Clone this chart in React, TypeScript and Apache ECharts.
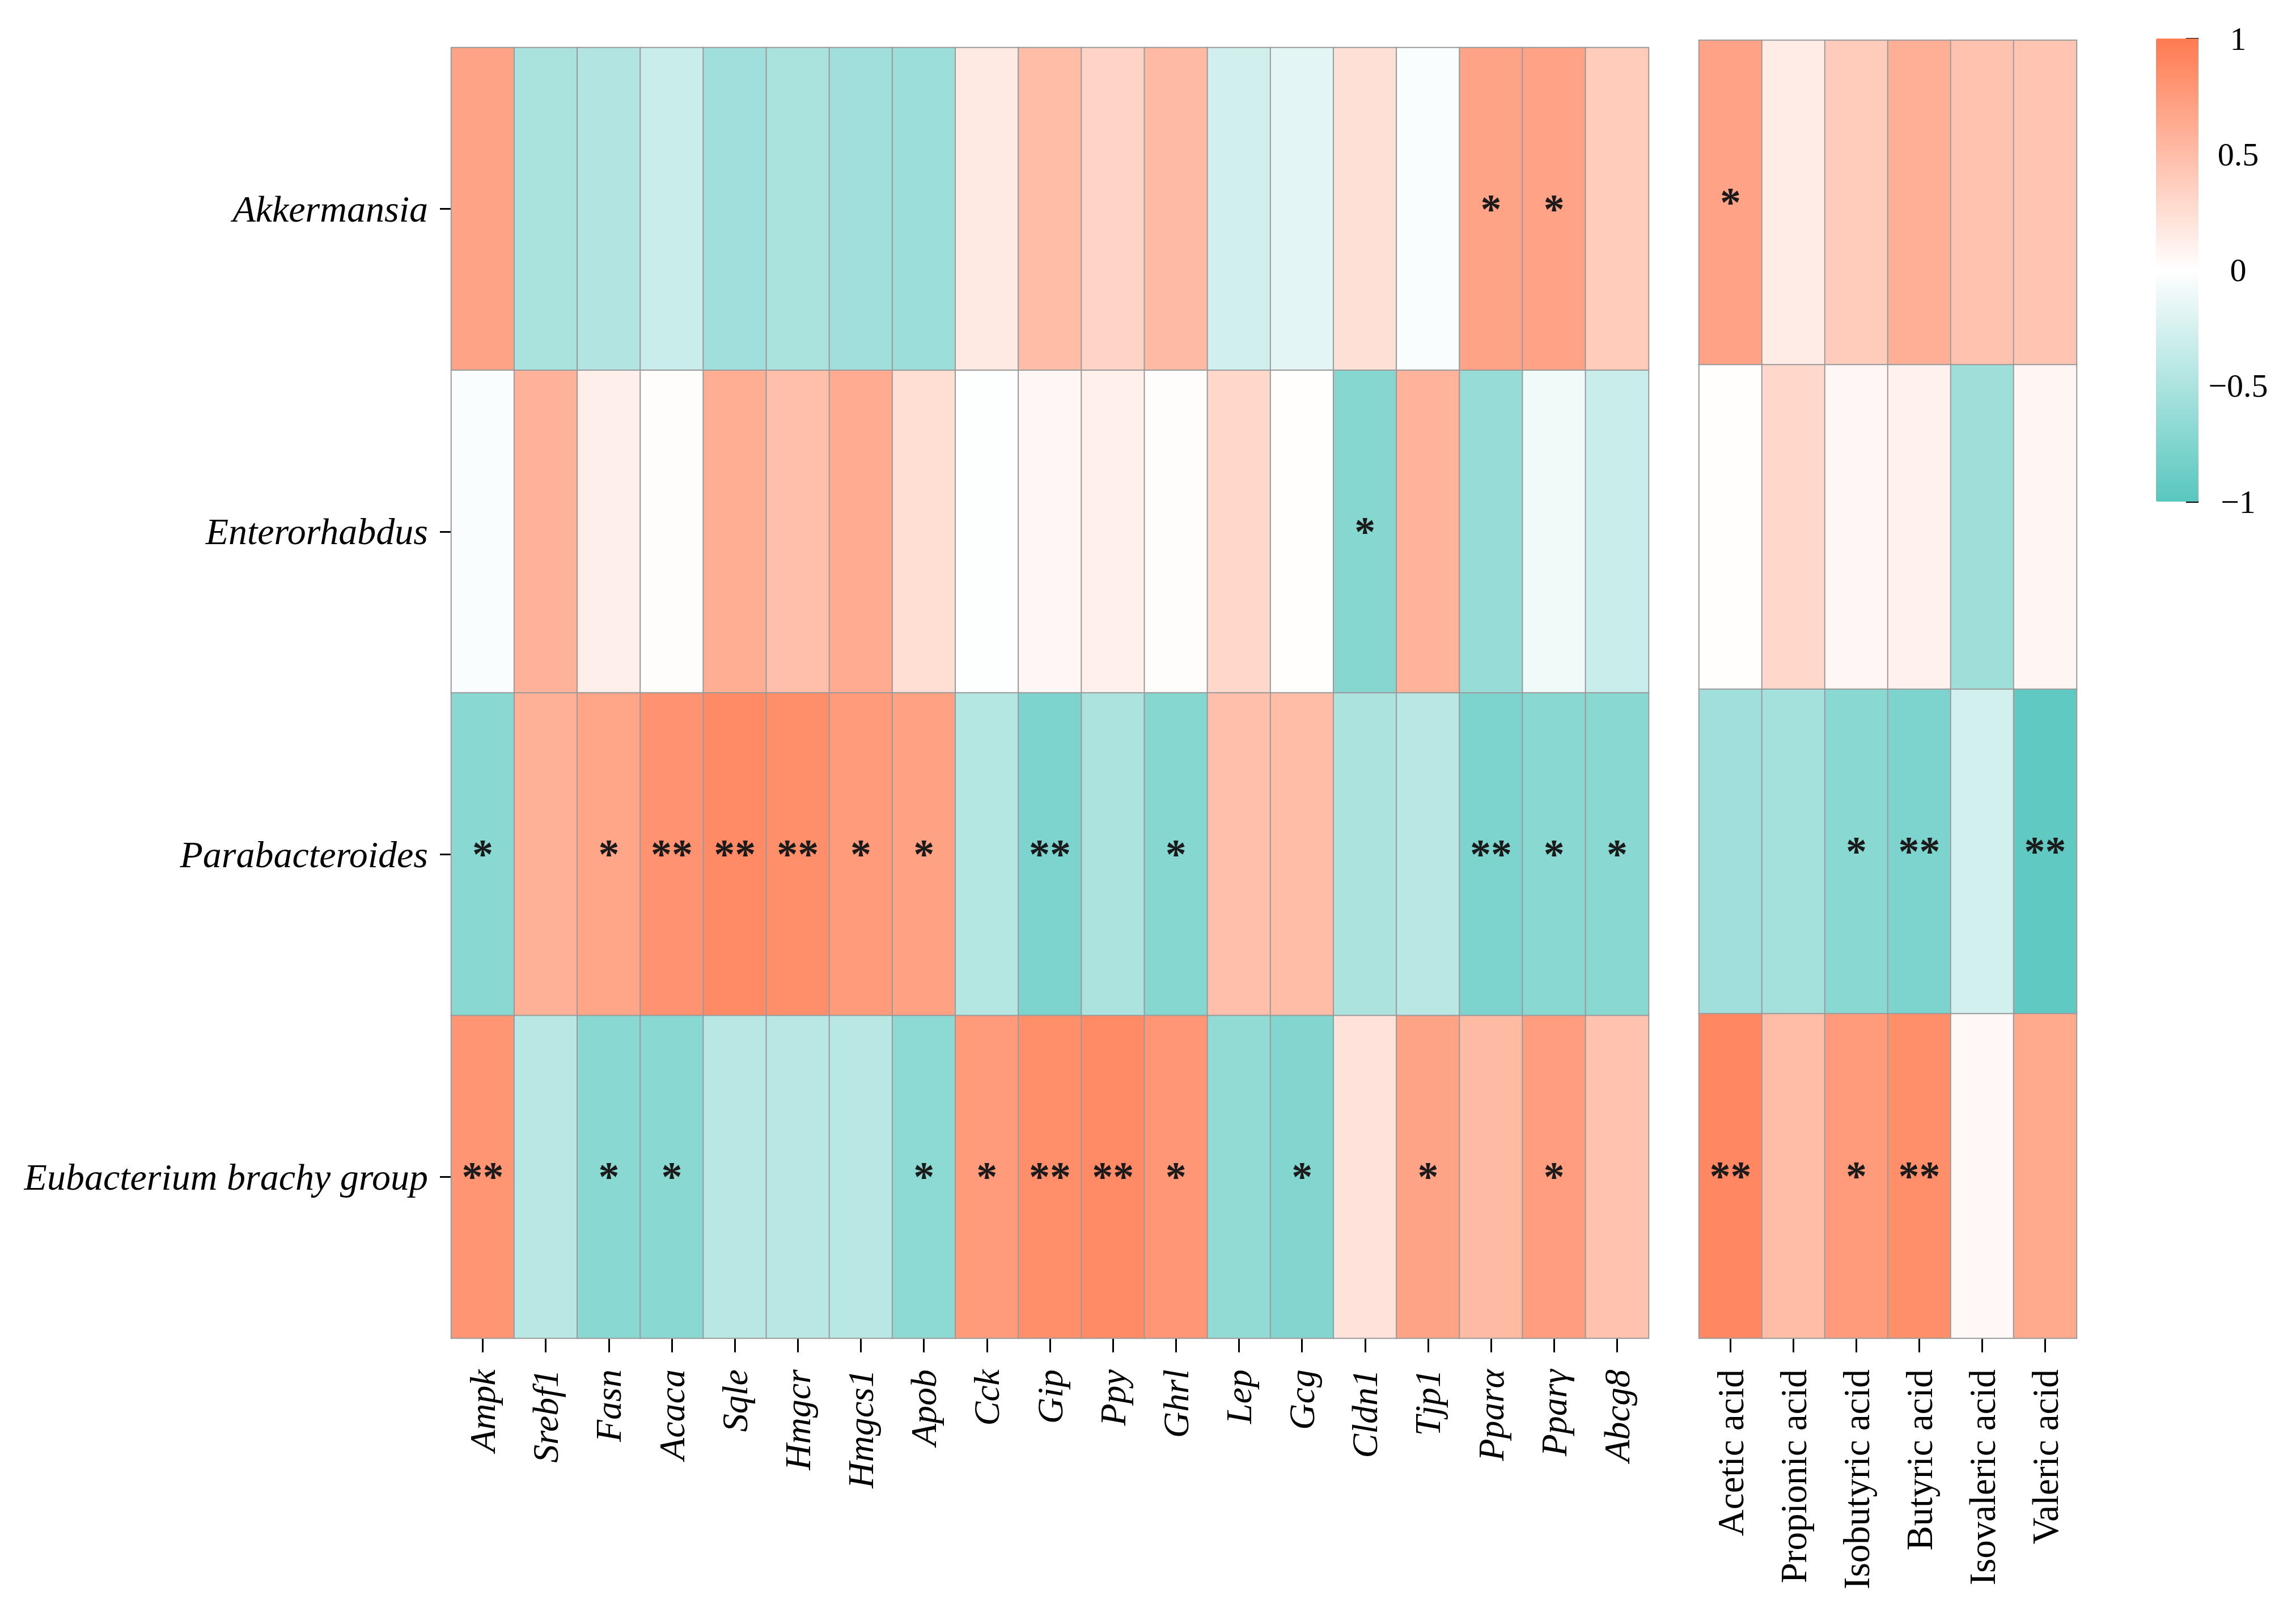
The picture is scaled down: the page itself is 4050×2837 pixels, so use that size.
import React, { useEffect, useRef } from "react";
import * as echarts from "echarts";

const rowNames = ["Akkermansia", "Enterorhabdus", "Parabacteroides", "Eubacterium brachy group"];
const geneNames = ["Ampk", "Srebf1", "Fasn", "Acaca", "Sqle", "Hmgcr", "Hmgcs1", "Apob", "Cck", "Gip", "Ppy", "Ghrl", "Lep", "Gcg", "Cldn1", "Tjp1", "Pparα", "Pparγ", "Abcg8"];
const acidNames = ["Acetic acid", "Propionic acid", "Isobutyric acid", "Butyric acid", "Isovaleric acid", "Valeric acid"];

const geneValues = [
  [0.69, -0.51, -0.46, -0.33, -0.57, -0.51, -0.57, -0.59, 0.16, 0.5, 0.32, 0.52, -0.28, -0.17, 0.23, -0.03, 0.69, 0.7, 0.39],
  [-0.03, 0.58, 0.12, 0.02, 0.62, 0.48, 0.63, 0.25, -0.01, 0.06, 0.11, 0.02, 0.3, 0.01, -0.72, 0.57, -0.62, -0.09, -0.33],
  [-0.7, 0.59, 0.68, 0.81, 0.88, 0.85, 0.76, 0.71, -0.45, -0.78, -0.5, -0.72, 0.48, 0.5, -0.5, -0.42, -0.78, -0.7, -0.7],
  [0.8, -0.42, -0.7, -0.7, -0.42, -0.42, -0.42, -0.68, 0.76, 0.85, 0.88, 0.79, -0.65, -0.74, 0.22, 0.69, 0.52, 0.74, 0.46],
];
const geneSig = [
  ["", "", "", "", "", "", "", "", "", "", "", "", "", "", "", "", "*", "*", ""],
  ["", "", "", "", "", "", "", "", "", "", "", "", "", "", "*", "", "", "", ""],
  ["*", "", "*", "**", "**", "**", "*", "*", "", "**", "", "*", "", "", "", "", "**", "*", "*"],
  ["**", "", "*", "*", "", "", "", "*", "*", "**", "**", "*", "", "*", "", "*", "", "*", ""],
];
const acidValues = [
  [0.7, 0.14, 0.39, 0.6, 0.46, 0.44],
  [0.01, 0.3, 0.06, 0.1, -0.58, 0.07],
  [-0.57, -0.54, -0.7, -0.78, -0.27, -0.95],
  [0.9, 0.5, 0.76, 0.85, 0.05, 0.65],
];
const acidSig = [
  ["*", "", "", "", "", ""],
  ["", "", "", "", "", ""],
  ["", "", "*", "**", "", "**"],
  ["**", "", "*", "**", "", ""],
];
const colorMin = -1;
const colorMax = 1;
const colorStep = 0.5;

const SERIF = "'Liberation Serif', 'DejaVu Serif', serif";

function toData(m: number[][]) {
  const out: number[][] = [];
  m.forEach((row, r) => row.forEach((v, c) => out.push([c, r, v])));
  return out;
}

export default function App() {
  const ref = useRef<HTMLDivElement>(null);
  useEffect(() => {
    if (!ref.current) return;
    const chart = echarts.init(ref.current, null, { renderer: "svg" });
    const tickStyle = { show: true, alignWithLabel: true, length: 22, lineStyle: { color: "#000", width: 3 } };
    const cellBorder = { borderColor: "#9a9a9a", borderWidth: 2 };
    const starLabel = (sig: string[][]) => ({
      show: true,
      formatter: (p: any) => sig[p.data[1]][p.data[0]],
      color: "#1a1a1a",
      fontSize: 74,
      fontWeight: "bold",
      fontFamily: SERIF,
      offset: [0, 0],
    });
    chart.setOption({
      animation: false,
      backgroundColor: "#fff",
      grid: [
        { left: 796, top: 84, width: 2112, height: 2277 },
        { left: 2997, top: 71, width: 666, height: 2290 },
        { left: 3878, top: 68, width: 22, height: 817 },
      ],
      xAxis: [
        {
          type: "category", gridIndex: 0, data: geneNames, position: "bottom",
          axisLine: { show: false }, axisTick: { ...tickStyle, length: 25 }, splitLine: { show: false },
          axisLabel: { rotate: 90, margin: 55, fontSize: 64, fontStyle: "italic", fontFamily: SERIF, color: "#000", interval: 0 },
        },
        {
          type: "category", gridIndex: 1, data: acidNames, position: "bottom",
          axisLine: { show: false }, axisTick: { ...tickStyle, length: 25 }, splitLine: { show: false },
          axisLabel: { rotate: 90, margin: 55, fontSize: 65, fontFamily: SERIF, color: "#000", interval: 0 },
        },
        { type: "value", gridIndex: 2, show: false },
      ],
      yAxis: [
        {
          type: "category", gridIndex: 0, data: rowNames, inverse: true,
          axisLine: { show: false }, axisTick: { ...tickStyle, length: 20 }, splitLine: { show: false },
          axisLabel: { margin: 41, fontSize: 66, fontStyle: "italic", fontFamily: SERIF, color: "#000" },
        },
        { type: "category", gridIndex: 1, data: rowNames, inverse: true, show: false },
        {
          type: "value", gridIndex: 2, min: colorMin, max: colorMax, interval: colorStep, position: "right",
          axisLine: { show: false }, splitLine: { show: false },
          axisTick: { show: true, inside: true, length: 22, lineStyle: { color: "#000", width: 3 } },
          axisLabel: {
            margin: 48, align: "center", fontSize: 58, fontFamily: SERIF, color: "#000",
            formatter: (v: number) => (v < 0 ? "\u2212" + String(-v) : String(v)),
          },
        },
      ],
      visualMap: {
        type: "continuous", min: colorMin, max: colorMax, dimension: 2, seriesIndex: [0, 1],
        calculable: false, hoverLink: false, padding: 0,
        left: 3803, top: 68, itemWidth: 75, itemHeight: 817, text: ["", ""],
        inRange: { color: ["#58C7BF", "#FFFFFF", "#FF7A50"] },
      },
      series: [
        {
          type: "heatmap", xAxisIndex: 0, yAxisIndex: 0, data: toData(geneValues),
          itemStyle: cellBorder, label: starLabel(geneSig), emphasis: { disabled: true },
        },
        {
          type: "heatmap", xAxisIndex: 1, yAxisIndex: 1, data: toData(acidValues),
          itemStyle: cellBorder, label: starLabel(acidSig), emphasis: { disabled: true },
        },
      ],
    });
    return () => chart.dispose();
  }, []);
  return <div ref={ref} style={{ position: "absolute", left: 0, top: 0, width: 4050, height: 2837 }} />;
}
